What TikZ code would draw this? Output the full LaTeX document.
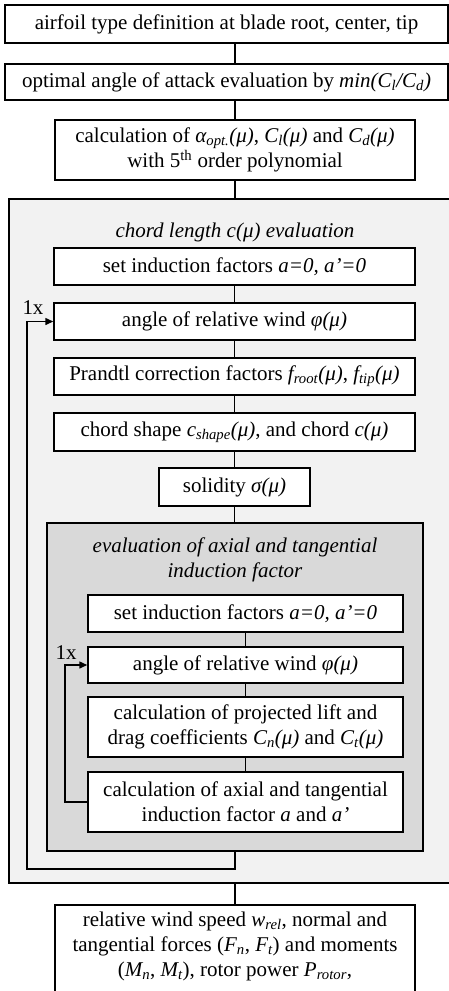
\documentclass[tikz,border=0pt]{standalone}
\usepackage{fontspec}
\setmainfont{Liberation Serif}
\usetikzlibrary{arrows.meta}
\definecolor{lightg}{HTML}{F2F2F2}
\definecolor{darkg}{HTML}{D9D9D9}
\tikzset{
  box/.style={draw=black, line width=1.5pt, fill=white, inner sep=0pt, align=center},
  graybox/.style={draw=black, line width=1.5pt, fill=lightg, inner sep=0pt},
  dgraybox/.style={draw=black, line width=1.5pt, fill=darkg, inner sep=0pt},
  conn/.style={draw=black, line width=1.5pt},
  arr/.style={draw=black, line width=1.5pt, -{Triangle[length=8pt,width=7pt]}},
  ttl/.style={font=\fontsize{21}{27}\selectfont\itshape, align=center},
}
\begin{document}
\begin{tikzpicture}[x=1pt, y=-1pt, font=\fontsize{21}{27}\selectfont]
\clip (0,0) rectangle (449,991);
\fill[white] (0,0) rectangle (449,991);

\node[box, minimum width=443pt, minimum height=38pt] (b1) at (226.5,24) {airfoil type definition at blade root, center, tip};
\node[box, minimum width=443pt, minimum height=36pt] (b2) at (226.5,82) {optimal angle of attack evaluation by \textit{min(C\textsubscript{l}/C\textsubscript{d})}};
\node[box, minimum width=360pt, minimum height=60pt] (b3) at (235,150) {calculation of \textit{α\textsubscript{opt.}(μ)}, \textit{C\textsubscript{l}(μ)} and \textit{C\textsubscript{d}(μ)}\\[-2pt] with 5\textsuperscript{th} order polynomial};

\node[graybox, minimum width=443pt, minimum height=684pt] (outer) at (230.5,541) {};
\node[ttl] (t1) at (235,232) {chord length c(μ) evaluation};
\node[box, minimum width=361pt, minimum height=37pt] (s1) at (234.5,266.5) {set induction factors \textit{a=0, a’=0}};
\node[box, minimum width=361pt, minimum height=37pt] (a1) at (234.5,321.5) {angle of relative wind \textit{φ(μ)}};
\node[box, minimum width=361pt, minimum height=37pt] (p1) at (234.5,376.5) {Prandtl correction factors \textit{f\textsubscript{root}(μ)}, \textit{f\textsubscript{tip}(μ)}};
\node[box, minimum width=361pt, minimum height=38pt] (c1) at (234.5,432) {chord shape \textit{c\textsubscript{shape}(μ)}, and chord \textit{c(μ)}};
\node[box, minimum width=151pt, minimum height=38pt] (so) at (234.5,487) {solidity \textit{σ(μ)}};

\node[dgraybox, minimum width=376pt, minimum height=328pt] (inner) at (235,687) {};
\node[ttl] (t2) at (235,559.5) {evaluation of axial and tangential\\[-2pt] induction factor};
\node[box, minimum width=315pt, minimum height=37pt] (s2) at (245.5,613.5) {set induction factors \textit{a=0, a’=0}};
\node[box, minimum width=315pt, minimum height=36pt] (a2) at (245.5,665) {angle of relative wind \textit{φ(μ)}};
\node[box, minimum width=315pt, minimum height=60pt] (pj) at (245.5,727) {calculation of projected lift and\\[-2pt] drag coefficients \textit{C\textsubscript{n}(μ)} and \textit{C\textsubscript{t}(μ)}};
\node[box, minimum width=315pt, minimum height=60pt] (ax) at (245.5,802) {calculation of axial and tangential\\[-2pt] induction factor \textit{a} and \textit{a’}};

\node[box, minimum width=360pt, minimum height=120pt, anchor=north] (fin) at (235,904) {};
\node[anchor=north, align=center, inner sep=0pt] (fintext) at ([yshift=-8pt]fin.north) {relative wind speed \textit{w\textsubscript{rel}}, normal and\\[-2pt] tangential forces (\textit{F\textsubscript{n}}, \textit{F\textsubscript{t}}) and moments\\[-2pt] (\textit{M\textsubscript{n}}, \textit{M\textsubscript{t}}), rotor power \textit{P\textsubscript{rotor}},};

\draw[conn] (b1.south -| b3.north) -- (b2.north -| b3.north);
\draw[conn] (b2.south -| b3.north) -- (b3.north);
\draw[conn] (b3.south) -- (outer.north -| b3.south);
\draw[conn] (s1.south) -- (a1.north);
\draw[conn] (a1.south) -- (p1.north);
\draw[conn] (p1.south) -- (c1.north);
\draw[conn] (c1.south) -- (so.north);
\draw[conn] (so.south) -- (inner.north -| so.south);
\draw[conn] (s2.south) -- (a2.north);
\draw[conn] (a2.south) -- (pj.north);
\draw[conn] (pj.south) -- (ax.north);
\draw[conn] (outer.south -| fin.north) -- (fin.north);

\coordinate (li) at (65,802);
\draw[arr] (ax.west) -- (li) |- (a2.west);
\coordinate (lo) at (27,869);
\draw[arr] (inner.south) |- (lo) |- (a1.west);

\node (x1) at (33,308) {1x};
\node (x2) at (66,653) {1x};
\end{tikzpicture}
\end{document}
